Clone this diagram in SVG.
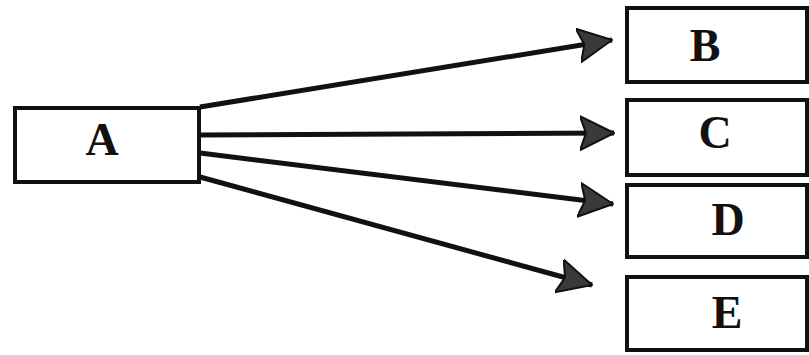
<svg xmlns="http://www.w3.org/2000/svg" width="809" height="355" viewBox="0 0 809 355">
<style>
.box{fill:#fff;stroke:#111;stroke-width:4}
.lbl{font-family:"Liberation Serif",serif;font-weight:bold;font-size:46px;fill:#111;text-anchor:middle}
.conn{stroke:#111;stroke-width:5;fill:none;marker-end:url(#ah)}
</style>
<defs>
<marker id="ah" markerUnits="userSpaceOnUse" markerWidth="36" markerHeight="36" refX="34" refY="18" orient="auto" viewBox="0 0 36 36">
<path d="M0,1 L34,18 L0,35 L6,18 Z" fill="#3a3a3a" stroke="#111" stroke-width="2" stroke-linejoin="round"/>
</marker>
</defs>
<rect width="809" height="355" fill="#fff"/>
<g id="connectors">
<line class="conn" x1="200" y1="107" x2="612" y2="40"/>
<line class="conn" x1="200" y1="135" x2="614" y2="133"/>
<line class="conn" x1="200" y1="153" x2="613" y2="204"/>
<line class="conn" x1="200" y1="177" x2="592" y2="285"/>
</g>
<g id="A"><rect class="box" x="15" y="108" width="184" height="74"/><text class="lbl" x="102" y="155">A</text></g>
<g id="B"><rect class="box" x="627" y="8" width="180" height="74"/><text class="lbl" x="705" y="61">B</text></g>
<g id="C"><rect class="box" x="627" y="100" width="180" height="75"/><text class="lbl" x="715" y="148">C</text></g>
<g id="D"><rect class="box" x="627" y="185" width="180" height="72"/><text class="lbl" x="728" y="235">D</text></g>
<g id="E"><rect class="box" x="627" y="277" width="180" height="73"/><text class="lbl" x="727" y="328">E</text></g>
</svg>
